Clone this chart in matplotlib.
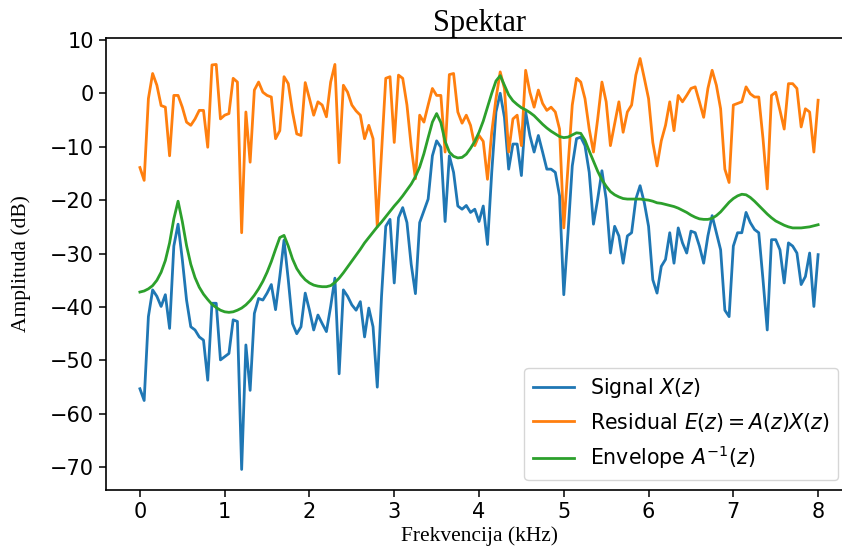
import numpy as np
import matplotlib
matplotlib.use("Agg")
import matplotlib.pyplot as plt

# frequency grid, 50 Hz bins from 0 to 8 kHz
freq = np.linspace(0, 8, 161)

signal_db = [
    -55.3, -57.5, -41.8, -36.8, -38.0, -39.9, -37.7, -44.0, -28.6, -24.5,
    -31.1, -38.7, -43.7, -44.3, -45.6, -46.2, -53.7, -39.3, -39.3, -49.9,
    -49.3, -48.7, -42.4, -42.7, -70.4, -47.1, -55.6, -41.2, -38.4, -38.7,
    -37.4, -35.8, -40.5, -34.3, -27.5, -34.9, -43.1, -45.0, -43.7, -37.4,
    -40.6, -44.3, -41.5, -43.1, -44.6, -39.9, -34.6, -52.5, -36.8, -38.0,
    -39.6, -40.6, -39.0, -45.6, -40.2, -43.7, -55.0, -38.0, -24.9, -23.6,
    -35.5, -23.3, -21.4, -24.2, -32.0, -37.5, -24.2, -22.0, -19.8, -11.7,
    -8.9, -10.1, -24.0, -11.7, -14.8, -21.1, -21.7, -21.0, -22.3, -21.7,
    -24.0, -21.1, -28.3, -14.8, -3.5, 0.0, -4.5, -14.2, -9.5, -9.5,
    -15.4, -3.5, -7.9, -11.0, -7.9, -11.0, -14.2, -14.2, -14.8, -19.2,
    -37.7, -26.1, -13.6, -8.5, -8.2, -9.8, -14.8, -24.5, -19.8, -14.5,
    -19.8, -29.9, -24.9, -26.7, -31.8, -26.7, -26.1, -19.8, -17.3, -20.5,
    -24.9, -34.9, -37.4, -32.4, -31.1, -26.1, -31.8, -25.2, -28.0, -29.9,
    -25.8, -26.1, -28.6, -31.8, -26.7, -22.9, -26.1, -29.3, -40.6, -41.8,
    -28.6, -26.1, -26.1, -22.3, -24.2, -25.5, -26.1, -34.9, -44.3, -27.4,
    -27.4, -29.3, -35.5, -28.0, -28.6, -29.9, -35.8, -34.3, -29.9, -39.9,
    -30.2,
]

residual_db = [
    -13.9, -16.3, -1.0, 3.7, 1.5, -2.3, -2.6, -11.7, -0.4, -0.4,
    -2.6, -5.4, -6.0, -4.8, -3.2, -3.2, -10.1, 5.3, 5.4, -4.8,
    -4.1, -3.8, 2.8, 2.1, -26.1, -3.5, -12.9, 0.6, 2.1, 0.2,
    -0.4, -0.7, -8.5, -7.0, 3.1, 1.8, -3.5, -7.6, -7.9, 2.0,
    -1.0, -4.1, -1.6, -2.2, -4.4, 2.1, 5.4, -13.0, 1.5, 0.2,
    -2.2, -3.3, -4.1, -8.5, -6.0, -8.5, -25.0, -11.0, 2.8, 3.1,
    -9.2, 3.4, 2.8, -2.2, -10.0, -16.0, -4.1, -5.4, -2.2, 0.9,
    -0.4, -0.4, -11.0, 3.5, 3.7, -3.5, -5.6, -4.1, -6.0, -9.8,
    -7.9, -9.0, -16.1, -7.3, -1.0, 4.0, 0.9, -11.0, -4.8, -4.1,
    -9.8, 4.3, 0.2, -2.6, 0.6, -1.9, -3.2, -2.6, -3.5, -6.7,
    -25.2, -13.6, -2.2, 2.8, 2.1, -1.0, -6.7, -11.0, -4.8, 2.1,
    -1.6, -9.8, -5.7, -1.6, -7.3, -3.5, -2.2, 3.4, 6.5, 2.8,
    -1.0, -9.2, -13.6, -8.9, -6.0, -1.6, -7.0, -0.4, -1.6, -0.4,
    0.9, 1.2, -1.6, -4.5, 0.9, 4.3, 1.5, -2.9, -14.2, -16.7,
    -2.2, -1.9, -1.6, 1.2, -0.1, -0.7, -0.7, -8.5, -17.9, -0.4,
    0.2, -3.2, -6.7, 1.8, 1.8, 0.9, -6.3, -2.9, -3.5, -11.0,
    -1.3,
]

envelope_db = [
    -37.2, -37.0, -36.6, -36.0, -35.0, -33.5, -31.3, -28.0, -23.5, -20.2,
    -24.0, -28.5, -32.0, -34.5, -36.3, -37.6, -38.6, -39.5, -40.1, -40.6,
    -40.9, -41.0, -40.9, -40.6, -40.2, -39.6, -38.8, -37.8, -36.6, -35.2,
    -33.5, -31.5, -29.2, -27.0, -26.6, -28.6, -31.0, -32.8, -34.0, -34.9,
    -35.5, -35.9, -36.1, -36.2, -36.2, -36.0, -35.4, -34.6, -33.6, -32.5,
    -31.4, -30.3, -29.2, -28.0, -27.0, -26.0, -25.0, -24.1, -23.1, -22.1,
    -21.1, -20.2, -19.2, -18.1, -17.0, -15.6, -13.8, -11.3, -8.3, -5.4,
    -3.8, -5.5, -9.0, -11.0, -11.8, -12.1, -12.0, -11.4, -10.3, -9.0,
    -7.3, -5.2, -2.6, 0.0, 2.3, 3.3, 1.5, -0.3, -1.4, -2.1,
    -2.7, -3.1, -3.6, -4.2, -5.0, -5.8, -6.5, -7.1, -7.6, -8.1,
    -8.3, -8.2, -7.8, -7.4, -7.5, -8.8, -10.8, -12.7, -14.6, -16.2,
    -17.4, -18.4, -19.0, -19.4, -19.7, -19.8, -19.8, -19.8, -19.8, -19.9,
    -20.0, -20.2, -20.5, -20.6, -20.8, -21.0, -21.2, -21.5, -21.9, -22.3,
    -22.8, -23.2, -23.5, -23.6, -23.6, -23.4, -22.9, -22.2, -21.3, -20.4,
    -19.7, -19.2, -18.9, -19.0, -19.5, -20.2, -21.0, -21.8, -22.6, -23.3,
    -23.9, -24.3, -24.7, -25.0, -25.2, -25.2, -25.2, -25.1, -25.0, -24.8,
    -24.6,
]

labels = ["Signal $X(z)$", "Residual $E(z) = A(z)X(z)$", "Envelope $A^{-1}(z)$"]

plt.rcParams["font.size"] = 15

fig = plt.figure(figsize=(8.42, 5.46), dpi=100)
ax = fig.add_axes([0.1259, 0.1026, 0.886, 0.8278])

ax.plot(freq, signal_db, lw=2, label=labels[0])
ax.plot(freq, residual_db, lw=2, label=labels[1])
ax.plot(freq, envelope_db, lw=2, label=labels[2])

ax.set_title("Spektar", family="Liberation Serif", fontsize=22, pad=5)
ax.set_xlabel("Frekvencija (kHz)", family="Liberation Serif", fontsize=15.5,
              labelpad=3)
ax.set_ylabel("Amplituda (dB)", family="Liberation Serif", fontsize=15.5,
              labelpad=14)
ax.set_yticks(np.arange(-70, 11, 10))
ax.tick_params(labelsize=15, width=1.1, length=5)
for s in ax.spines.values():
    s.set_linewidth(1.2)

ax.legend(loc="lower right", fontsize=14.8, borderaxespad=0.5,
          bbox_to_anchor=(0.995, 0.0))

fig.savefig("out.png", dpi=100)
